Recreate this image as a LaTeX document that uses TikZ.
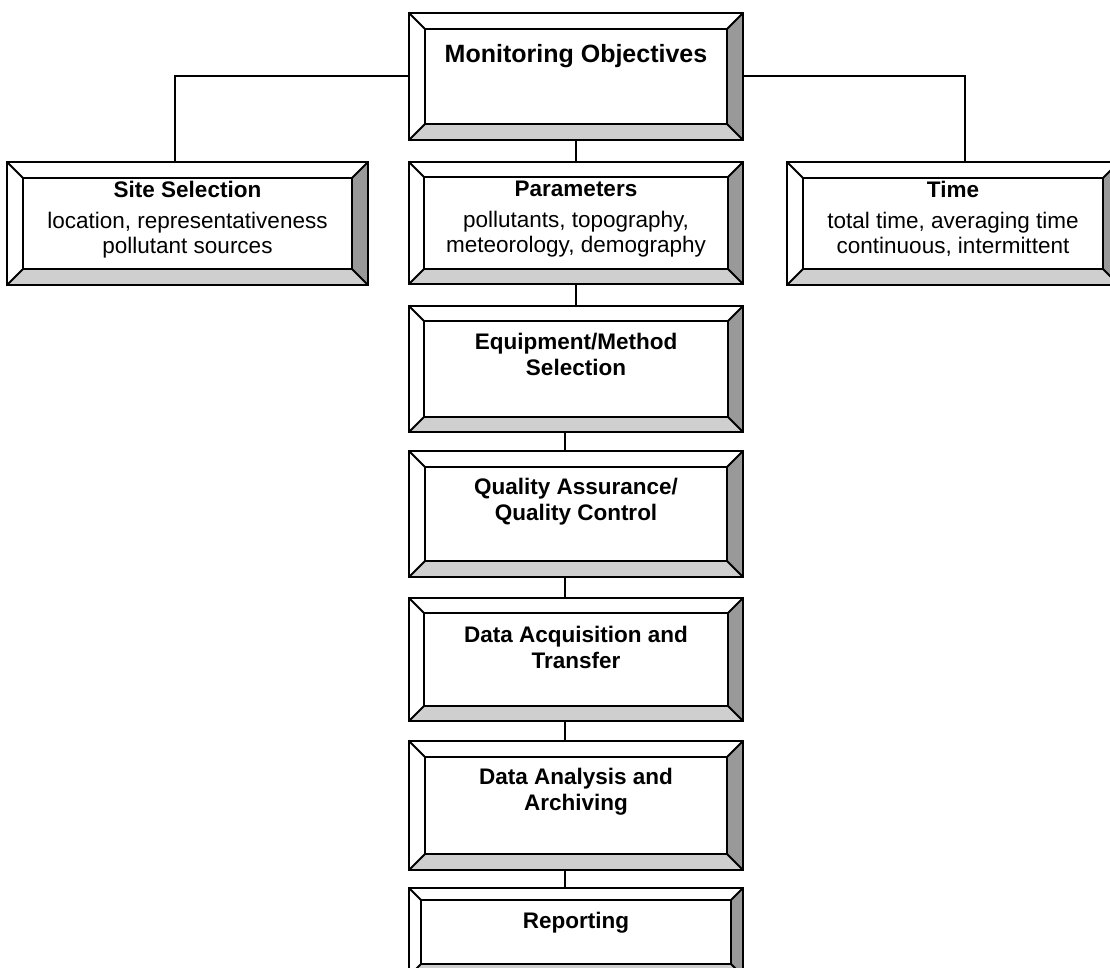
\documentclass[tikz,border=0pt]{standalone}
\usepackage{fontspec}
\setmainfont{Liberation Sans}
\begin{document}
\begin{tikzpicture}[x=1pt,y=-1pt,
  edge/.style={draw=black,line width=2pt,line join=miter},
  bevlight/.style={fill=black!19},
  bevdark/.style={fill=black!40},
  boxtext/.style={inner sep=0pt,anchor=north,align=center,
    font=\fontsize{22.5}{25}\selectfont},
  headtext/.style={inner sep=0pt,anchor=north,align=center,
    font=\bfseries\fontsize{22.5}{26.5}\selectfont}]
\useasboundingbox (0,0) rectangle (1110,968);
\clip (0,0) rectangle (1110,968);
\fill[white] (0,0) rectangle (1110,968);

% bevelled frame: name, outer top-left (x1,y1), outer bottom-right (x2,y2), bevel depth
\newcommand\bevelbox[6]{%
  \fill[white] (#2,#3) rectangle (#4,#5);
  \fill[bevlight] (#2,#5) -- (#4,#5) -- (#4-#6,#5-#6) -- (#2+#6,#5-#6) -- cycle;
  \fill[bevdark] (#4,#3) -- (#4,#5) -- (#4-#6,#5-#6) -- (#4-#6,#3+#6) -- cycle;
  \draw[edge] (#2,#3) rectangle (#4,#5);
  \draw[edge] (#2+#6,#3+#6) rectangle (#4-#6,#5-#6);
  \draw[edge] (#2,#3) -- (#2+#6,#3+#6) (#4,#3) -- (#4-#6,#3+#6)
              (#2,#5) -- (#2+#6,#5-#6) (#4,#5) -- (#4-#6,#5-#6);
  \node[inner sep=0pt,minimum width={#4-#2},minimum height={#5-#3}]
    (#1) at ({(#2+#4)/2},{(#3+#5)/2}) {};
}

% boxes
\bevelbox{mon}{409}{13}{743}{140}{16}
\bevelbox{site}{7}{162}{368}{285}{16}
\bevelbox{par}{409}{162}{743}{284}{15}
\bevelbox{time}{787}{162}{1119}{285}{16}
\bevelbox{equip}{409}{306}{743}{432}{15}
\bevelbox{qual}{409}{451}{743}{577}{16}
\bevelbox{acq}{409}{598}{743}{721}{15}
\bevelbox{ana}{409}{741}{743}{870}{16}
\bevelbox{rep}{409}{888}{743}{976}{12}

% connectors
\draw[edge] (mon.west) -| ([xshift=-12.5pt]site.north);
\draw[edge] (mon.east) -| ([xshift=12pt]time.north);
\draw[edge] (mon.south) -- (par.north);
\draw[edge] (par.south) -- (equip.north);
\draw[edge] ([xshift=-11pt]equip.south) -- ([xshift=-11pt]qual.north);
\draw[edge] ([xshift=-11pt]qual.south) -- ([xshift=-11pt]acq.north);
\draw[edge] ([xshift=-11pt]acq.south) -- ([xshift=-11pt]ana.north);
\draw[edge] ([xshift=-11pt]ana.south) -- ([xshift=-11pt]rep.north);

% labels
\node[headtext,font=\bfseries\fontsize{25}{30}\selectfont] (monT) at (576,44) {Monitoring Objectives};
\node[boxtext] (siteT) at (187.5,180.5)
  {\textbf{Site Selection}\\[6pt]location, representativeness\\pollutant sources};
\node[boxtext] (parT) at (576,180.5)
  {\textbf{Parameters}\\[6pt]pollutants, topography,\\meteorology, demography};
\node[boxtext] (timeT) at (953,180.5)
  {\textbf{Time}\\[6pt]total time, averaging time\\continuous, intermittent};
\node[headtext] (equipT) at (576,332.5) {Equipment/Method\\Selection};
\node[headtext] (qualT) at (576,477.5) {Quality Assurance/\\Quality Control};
\node[headtext] (acqT) at (576,625.5) {Data Acquisition and\\Transfer};
\node[headtext] (anaT) at (576,767.5) {Data Analysis and\\Archiving};
\node[headtext] (repT) at (576,911.5) {Reporting};
\end{tikzpicture}
\end{document}
